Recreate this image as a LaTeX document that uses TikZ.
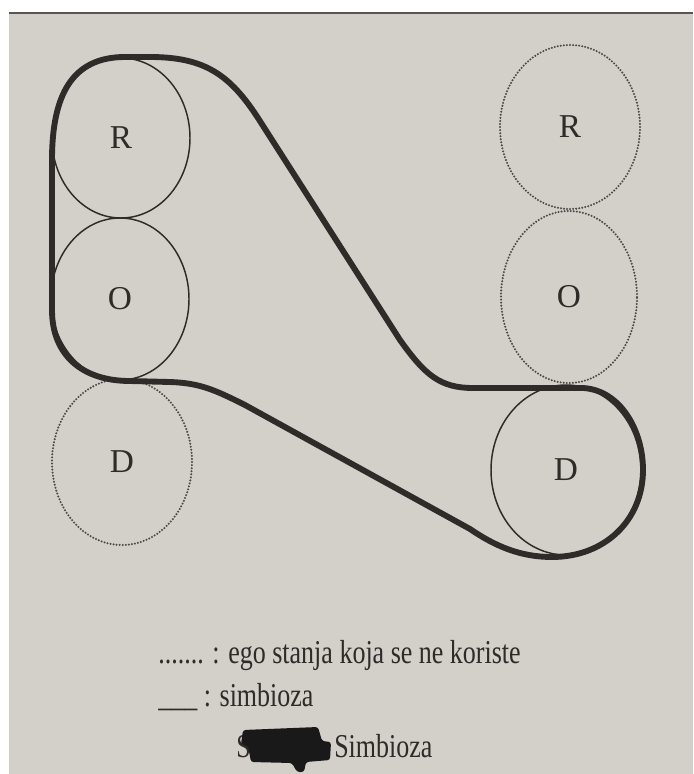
\documentclass[tikz,border=0pt]{standalone}
\usepackage{fontspec}
\setmainfont{Liberation Serif}
\usetikzlibrary{shapes.geometric}
\definecolor{paper}{HTML}{D3CFC9}
\definecolor{ink}{HTML}{2E2B29}
\begin{document}
\begin{tikzpicture}[x=0.75pt,y=-0.75pt,
  egostate/.style={ellipse, draw=ink, line width=1.1pt, inner sep=0pt, text=ink,
    font=\fontsize{25}{30}\selectfont},
  unused/.style={egostate, draw=ink!85, line width=1.7pt, line cap=round, dash pattern=on 0pt off 2.3pt},
  belt/.style={draw=ink, line width=4.4pt, line join=round},
  legend/.style={anchor=west, inner sep=0pt, text=ink, font=\fontsize{25}{30}\selectfont\addfontfeature{FakeStretch=0.78}}]
% background / page
\fill[white] (0,0) rectangle (693,774);
\fill[paper] (9,12) rectangle (693,774);
\draw[ink!80, line width=1pt] (9,13) -- (693,13);
\useasboundingbox (0,0) rectangle (693,774);

% left column
\node[egostate, minimum width=103.5pt, minimum height=120pt] (lR) at (121,138) {R};
\node[egostate, minimum width=103.5pt, minimum height=121.5pt] (lO) at (120,299) {O};
\node[unused, minimum width=105pt, minimum height=124.5pt] (lD) at (122,462) {D};
% right column
\node[unused, minimum width=105pt, minimum height=123pt] (rR) at (570,127) {R};
\node[unused, minimum width=102pt, minimum height=129pt] (rO) at (569,297) {O};
\node[egostate, minimum width=112.5pt, minimum height=127.5pt] (rD) at (566,470) {D};

% symbiosis belt
\path[belt] (125,57) .. controls (72,57) and (52,95) .. (52,160)
  -- (52,310)
  .. controls (52,355) and (82,381) .. (130,381)
  -- (170,382)
  .. controls (200,383) and (215,390) .. (245,405)
  -- (470,529)
  .. controls (495,546) and (520,557) .. (552,557)
  .. controls (605,557) and (643,520) .. (643,470)
  .. controls (643,430) and (620,390) .. (583,388)
  -- (473,388)
  .. controls (440,388) and (425,375) .. (400,340)
  -- (258,118)
  .. controls (230,75) and (205,57) .. (150,57)
  -- cycle;

% legend
\node[legend] (leg1) at (158,656) {....... : ego stanja koja se ne koriste};
\node[legend] (leg2) at (158,697) {\_\_\_\ : simbioza};
\node[legend, anchor=base west] (capS) at (236,757) {S};
\node[legend, anchor=base west] (capT) at (334,757) {Simbioza};
\fill[black!90, rounded corners=2pt] (243,730) -- (318,727) -- (322,741) -- (331,742) -- (330,760)
  -- (306,762) -- (304,772) -- (297,772) -- (292,763) -- (251,762) -- (248,746) -- (241,744) -- cycle;
\end{tikzpicture}
\end{document}
